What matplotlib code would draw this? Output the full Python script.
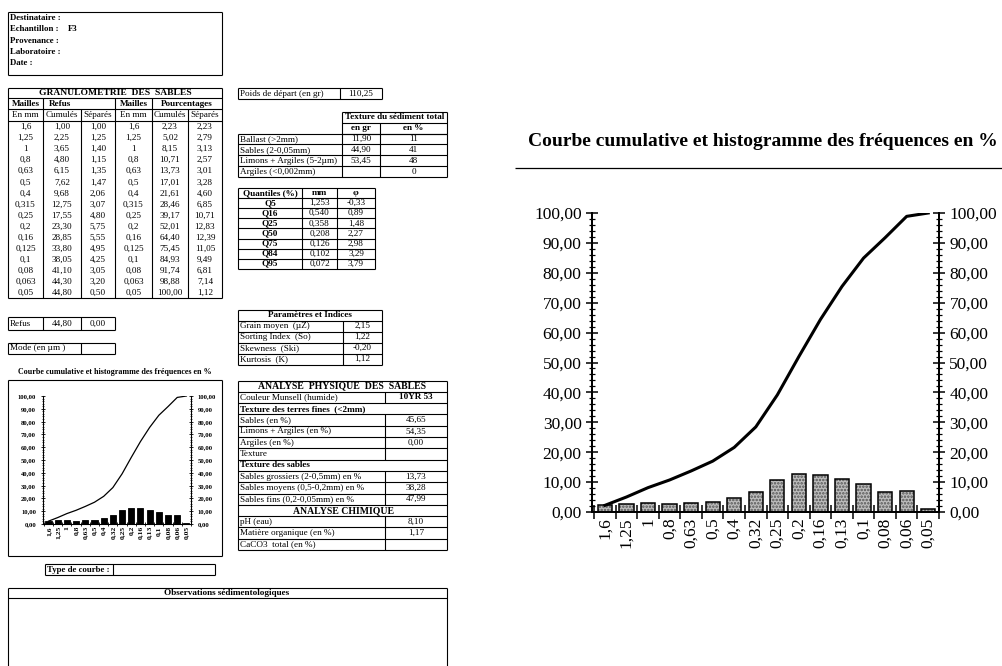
import matplotlib
matplotlib.use("Agg")
from matplotlib import pyplot as plt
import numpy as np

plt.rcParams['font.family'] = ['Liberation Serif', 'DejaVu Serif']
plt.rcParams['hatch.linewidth'] = 1.2

# --- data read from the sheet ---
mailles = ["1,6", "1,25", "1", "0,8", "0,63", "0,5", "0,4", "0,315", "0,25", "0,2",
           "0,16", "0,125", "0,1", "0,08", "0,063", "0,05"]
refus_cum = ["1,00", "2,25", "3,65", "4,80", "6,15", "7,62", "9,68", "12,75", "17,55", "23,30",
             "28,85", "33,80", "38,05", "41,10", "44,30", "44,80"]
refus_sep = ["1,00", "1,25", "1,40", "1,15", "1,35", "1,47", "2,06", "3,07", "4,80", "5,75",
             "5,55", "4,95", "4,25", "3,05", "3,20", "0,50"]
pct_cum = [2.23, 5.02, 8.15, 10.71, 13.73, 17.01, 21.61, 28.46, 39.17, 52.01,
           64.40, 75.45, 84.93, 91.74, 98.88, 100.00]
pct_sep = [2.23, 2.79, 3.13, 2.57, 3.01, 3.28, 4.60, 6.85, 10.71, 12.83,
           12.39, 11.05, 9.49, 6.81, 7.14, 1.12]
chart_labels = ["1,6", "1,25", "1", "0,8", "0,63", "0,5", "0,4", "0,32", "0,25", "0,2",
                "0,16", "0,13", "0,1", "0,08", "0,06", "0,05"]

texture_labels = ["Ballast (>2mm)", "Sables (2-0,05mm)", "Limons + Argiles (5-2µm)", "Argiles (<0,002mm)"]
texture_gr = ["11,90", "44,90", "53,45", ""]
texture_pct = ["11", "41", "48", "0"]

quant_names = ["Q5", "Q16", "Q25", "Q50", "Q75", "Q84", "Q95"]
quant_mm = ["1,253", "0,540", "0,358", "0,208", "0,126", "0,102", "0,072"]
quant_phi = ["-0,33", "0,89", "1,48", "2,27", "2,98", "3,29", "3,79"]

param_names = ["Grain moyen  (µZ)", "Sorting Index  (So)", "Skewness  (Ski)", "Kurtosis  (K)"]
param_vals = ["2,15", "1,22", "-0,20", "1,12"]

# (label, value, kind)  kind: r = normal row, h = title row, s = section row, c = centred title
analyse_rows = [
    ("ANALYSE  PHYSIQUE  DES  SABLES", None, "h"),
    ("Couleur Munsell (humide)", "10YR 53", "r"),
    ("Texture des terres fines  (<2mm)", None, "s"),
    ("Sables (en %)", "45,65", "r"),
    ("Limons + Argiles (en %)", "54,35", "r"),
    ("Argiles (en %)", "0,00", "r"),
    ("Texture", "", "r"),
    ("Texture des sables", None, "s"),
    ("Sables grossiers (2-0,5mm) en %", "13,73", "r"),
    ("Sables moyens (0,5-0,2mm) en %", "38,28", "r"),
    ("Sables fins (0,2-0,05mm) en %", "47,99", "r"),
    ("ANALYSE CHIMIQUE", None, "c"),
    ("pH (eau)", "8,10", "r"),
    ("Matière organique (en %)", "1,17", "r"),
    ("CaCO3  total (en %)", "", "r"),
]

W, H = 1003, 666
fig = plt.figure(figsize=(W / 100, H / 100), dpi=100)
bg = fig.add_axes([0, 0, 1, 1])
bg.set_xlim(0, W)
bg.set_ylim(H, 0)
bg.axis('off')

FS = 6.6
LW = 0.8


def hl(x0, x1, y, lw=LW):
    bg.plot([x0, x1], [y, y], color='black', lw=lw, solid_capstyle='butt')


def vl(x, y0, y1, lw=LW):
    bg.plot([x, x], [y0, y1], color='black', lw=lw, solid_capstyle='butt')


def box(x0, y0, x1, y1, lw=LW):
    hl(x0, x1, y0, lw)
    hl(x0, x1, y1, lw)
    vl(x0, y0, y1, lw)
    vl(x1, y0, y1, lw)


def tx(x, y, s, ha='center', bold=False, size=FS):
    bg.text(x, y, s, ha=ha, va='center', fontsize=size,
            fontweight='bold' if bold else 'normal')


# header box
box(8, 12, 222, 75)
for i, s in enumerate(["Destinataire :", "Echantillon :", "Provenance :", "Laboratoire :", "Date :"]):
    tx(10, 18 + i * 11.3, s, ha='left', bold=True, size=6.3)
tx(68, 29.3, "F3", ha='left', bold=True, size=6.3)

# granulometrie table
cx = [8, 43, 81, 115, 152, 188, 222]
box(8, 88, 222, 298)
hl(8, 222, 98)
hl(8, 222, 109)
hl(8, 222, 121)
for x in [43, 115, 152]:
    vl(x, 98, 298)
for x in [81, 188]:
    vl(x, 109, 298)
tx(115, 93, "GRANULOMETRIE  DES  SABLES", bold=True, size=6.8)
tx(25.5, 103.5, "Mailles", bold=True)
tx(60, 103.5, "Refus", bold=True)
tx(133.5, 103.5, "Mailles", bold=True)
tx(187, 103.5, "Pourcentages", bold=True)
for j, s in enumerate(["En mm", "Cumulés", "Séparés", "En mm", "Cumulés", "Séparés"]):
    tx((cx[j] + cx[j + 1]) / 2, 115, s)
for i in range(len(mailles)):
    y = 127 + i * 11.07
    row = [mailles[i], refus_cum[i], refus_sep[i], mailles[i],
           f"{pct_cum[i]:.2f}".replace('.', ','), f"{pct_sep[i]:.2f}".replace('.', ',')]
    for j, s in enumerate(row):
        tx((cx[j] + cx[j + 1]) / 2, y, s)

# refus / mode boxes
box(8, 317, 115, 330)
vl(43, 317, 330)
vl(81, 317, 330)
tx(10, 323.5, "Refus", ha='left')
tx(62, 323.5, "44,80")
tx(98, 323.5, "0,00")
box(8, 343, 115, 354)
vl(81, 343, 354)
tx(10, 348.5, "Mode (en µm )", ha='left')

# small chart frame
tx(115, 372, "Courbe cumulative et histogramme des fréquences en %", bold=True, size=5.8)
box(8, 380, 222, 556)

# type de courbe / observations
box(45, 564, 215, 575)
vl(113, 564, 575)
tx(47, 569.5, "Type de courbe :", ha='left', bold=True, size=6.3)
hl(8, 447, 588)
hl(8, 447, 598)
vl(8, 588, 666)
vl(447, 588, 666)
tx(227, 593, "Observations sédimentologiques", bold=True)

# poids de depart
box(238, 88, 382, 99)
vl(340, 88, 99)
tx(240, 93.5, "Poids de départ (en gr)", ha='left')
tx(361, 93.5, "110,25")

# texture du sediment total
box(342, 112, 447, 133.5)
hl(342, 447, 122.5)
vl(380, 122.5, 133.5)
tx(394.5, 117, "Texture du sédiment total", bold=True)
tx(361, 128, "en gr", bold=True)
tx(413.5, 128, "en %", bold=True)
ty = [133.5 + i * 10.9 for i in range(5)]
box(238, ty[0], 447, ty[-1])
vl(342, ty[0], ty[-1])
vl(380, ty[0], ty[-1])
for i in range(4):
    if i > 0:
        hl(238, 447, ty[i])
    yc = (ty[i] + ty[i + 1]) / 2
    tx(240, yc, texture_labels[i], ha='left')
    tx(361, yc, texture_gr[i])
    tx(413.5, yc, texture_pct[i])

# quantiles
qy = [188 + i * 10.1 for i in range(9)]
box(238, qy[0], 375, qy[-1])
vl(302, qy[0], qy[-1])
vl(337, qy[0], qy[-1])
for i in range(1, 8):
    hl(238, 375, qy[i])
tx(270, (qy[0] + qy[1]) / 2, "Quantiles (%)", bold=True)
tx(319.5, (qy[0] + qy[1]) / 2, "mm", bold=True)
tx(356, (qy[0] + qy[1]) / 2, "φ", bold=True)
for i in range(7):
    yc = (qy[i + 1] + qy[i + 2]) / 2
    tx(270, yc, quant_names[i], bold=True)
    tx(319.5, yc, quant_mm[i])
    tx(356, yc, quant_phi[i])

# parametres et indices
py = [309.5 + i * 11 for i in range(6)]
box(238, py[0], 382, py[-1])
vl(343, py[1], py[-1])
for i in range(1, 5):
    hl(238, 382, py[i])
tx(310, (py[0] + py[1]) / 2, "Paramètres et Indices", bold=True)
for i in range(4):
    yc = (py[i + 1] + py[i + 2]) / 2
    tx(240, yc, param_names[i], ha='left')
    tx(362.5, yc, param_vals[i])

# analyse physique / chimique
ay = [380.5 + i * 11.3 for i in range(len(analyse_rows) + 1)]
box(238, ay[0], 447, ay[-1])
for i, (lab, val, kind) in enumerate(analyse_rows):
    y0, y1 = ay[i], ay[i + 1]
    yc = (y0 + y1) / 2
    if i > 0:
        hl(238, 447, y0)
    if kind == "h":
        tx(342, yc, lab, bold=True, size=7)
    elif kind == "c":
        tx(344, yc, lab, bold=True, size=7)
    elif kind == "s":
        tx(240, yc, lab, ha='left', bold=True)
    else:
        vl(385, y0, y1)
        tx(240, yc, lab, ha='left')
        tx(416, yc, val, bold=(i == 1))


def px_rect(x0, y0, x1, y1):
    return [x0 / W, 1 - y1 / H, (x1 - x0) / W, (y1 - y0) / H]


def fmt(v, pos=None):
    return f"{v:.2f}".replace('.', ',')


def draw_chart(ax, lw_line, stipple, tick_fs, lab_fs, tick_len, bar_lw):
    xs = np.arange(len(pct_cum))
    if stipple:
        ax.bar(xs, pct_sep, width=0.66, color='#bdbdbd', edgecolor='#555555',
               hatch='.....', lw=0, zorder=2)
        ax.bar(xs, pct_sep, width=0.66, fill=False, edgecolor='black', lw=bar_lw, zorder=2)
    else:
        ax.bar(xs, pct_sep, width=0.66, color='black', edgecolor='black', lw=bar_lw, zorder=2)
    ax.plot(xs, pct_cum, color='black', lw=lw_line, zorder=3)
    ax.set_xlim(-0.6, len(xs) - 0.5)
    ax.set_ylim(0, 100)
    ax.patch.set_alpha(0)
    ax.spines['top'].set_visible(False)
    for s in ['left', 'right', 'bottom']:
        ax.spines[s].set_linewidth(bar_lw * 1.3)
    ax.set_yticks(np.arange(0, 101, 10))
    ax.set_yticks(np.arange(0, 101, 2), minor=True)
    ax.yaxis.set_major_formatter(plt.FuncFormatter(fmt))
    ax.tick_params(axis='y', which='both', left=True, right=True, labelleft=True,
                   labelright=True, direction='inout', labelsize=tick_fs)
    ax.tick_params(axis='y', which='major', length=tick_len, width=bar_lw)
    ax.tick_params(axis='y', which='minor', length=tick_len * 0.6, width=bar_lw * 0.8)
    ax.set_xticks(np.arange(-0.5, len(xs), 1))
    ax.set_xticklabels([])
    ax.set_xticks(xs, minor=True)
    ax.set_xticklabels(chart_labels, minor=True, rotation=90, fontsize=lab_fs)
    ax.tick_params(axis='x', which='major', direction='inout', length=tick_len * 1.2, width=bar_lw)
    ax.tick_params(axis='x', which='minor', length=0, pad=tick_len * 0.5)


# small chart
ax1 = fig.add_axes(px_rect(43, 396, 191, 524))
draw_chart(ax1, 0.9, False, 4.8, 5.4, 3, 0.6)
for t in ax1.get_yticklabels() + ax1.get_xticklabels(minor=True):
    t.set_fontweight('bold')

# big chart
bg.text(763, 141, "Courbe cumulative et histogramme des fréquences en %", ha='center',
        va='center', fontsize=14, fontweight='bold')
hl(515, 1003, 168, lw=0.9)
ax2 = fig.add_axes(px_rect(592, 213, 939, 512))
draw_chart(ax2, 2.2, True, 12.5, 12.5, 8, 1.1)

fig.savefig('out.png', dpi=100)
